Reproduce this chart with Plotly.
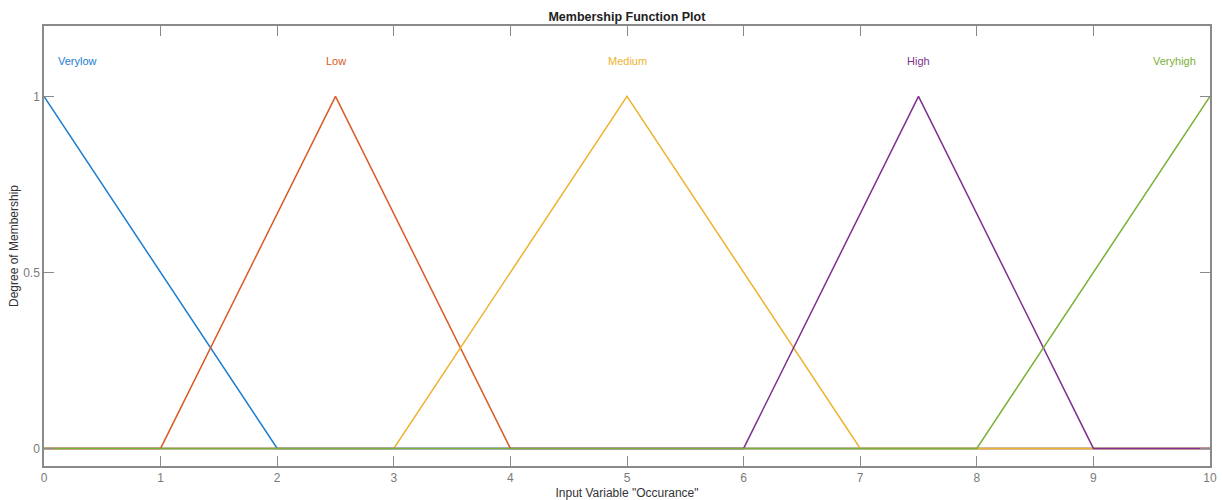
import plotly.graph_objects as go

# Membership functions (x breakpoints, membership values)
names = ["Verylow", "Low", "Medium", "High", "Veryhigh"]
verylow_x = [0, 2, 10]
verylow_y = [1, 0, 0]
low_x = [0, 1, 2.5, 4, 10]
low_y = [0, 0, 1, 0, 0]
medium_x = [0, 3, 5, 7, 10]
medium_y = [0, 0, 1, 0, 0]
high_x = [0, 6, 7.5, 9, 10]
high_y = [0, 0, 1, 0, 0]
veryhigh_x = [0, 8, 10]
veryhigh_y = [0, 0, 1]

label_x = [0.1, 2.5, 5, 7.5, 9.9]
label_y = [1.1, 1.1, 1.1, 1.1, 1.1]
label_anchor = ["left", "center", "center", "center", "right"]

x_ticks = list(range(0, 11))
y_ticks = [0, 0.5, 1]
y_tick_text = ["0", "0.5", "1"]

colors = ["#1A7DCF", "#DA5A24", "#EDB330", "#7E318E", "#7AB037"]

series = [(verylow_x, verylow_y), (low_x, low_y), (medium_x, medium_y),
          (high_x, high_y), (veryhigh_x, veryhigh_y)]

fig = go.Figure()
for (xs, ys), name, c in zip(series, names, colors):
    fig.add_trace(go.Scatter(x=xs, y=ys, mode="lines", name=name,
                             line=dict(color=c, width=1.5), showlegend=False))

for name, lx, ly, anc, c in zip(names, label_x, label_y, label_anchor, colors):
    fig.add_annotation(x=lx, y=ly, xref="x", yref="y", text=name, showarrow=False,
                       xanchor=anc, yanchor="middle",
                       font=dict(color=c, size=11, family="Liberation Sans"))

axis_color = "#8a8a8a"
fig.update_layout(
    width=1222, height=500,
    margin=dict(l=44, r=12, t=26, b=34, autoexpand=False),
    paper_bgcolor="white", plot_bgcolor="white",
    font=dict(family="Liberation Sans", color="#222222"),
    title=dict(text="<b>Membership Function Plot</b>", x=0.513, xanchor="center",
               y=1 - 17 / 500, yref="container", yanchor="middle",
               font=dict(size=12.5, color="#222222")),
)
fig.update_xaxes(range=[0, 10], tickvals=x_ticks, ticks="inside", ticklen=10,
                 tickcolor=axis_color, showline=True, linecolor=axis_color, linewidth=1.5,
                 mirror="ticks", showgrid=False, zeroline=False, automargin=False,
                 tickfont=dict(size=12, color="#7a7a7a"),
                 title=dict(text='Input Variable "Occurance"', standoff=5,
                            font=dict(size=12, color="#333333")))
fig.update_yaxes(range=[-0.05, 1.2], tickvals=y_ticks, ticktext=y_tick_text,
                 ticks="inside", ticklen=10, tickcolor=axis_color, showline=True,
                 linecolor=axis_color, linewidth=1.5, mirror="ticks", showgrid=False,
                 zeroline=False, automargin=False, tickfont=dict(size=12, color="#7a7a7a"),
                 title=dict(text="Degree of Membership", standoff=2,
                            font=dict(size=12, color="#333333")))

fig.write_html("out.html", config={"displayModeBar": False},
               post_script="document.body.style.margin='0';")
